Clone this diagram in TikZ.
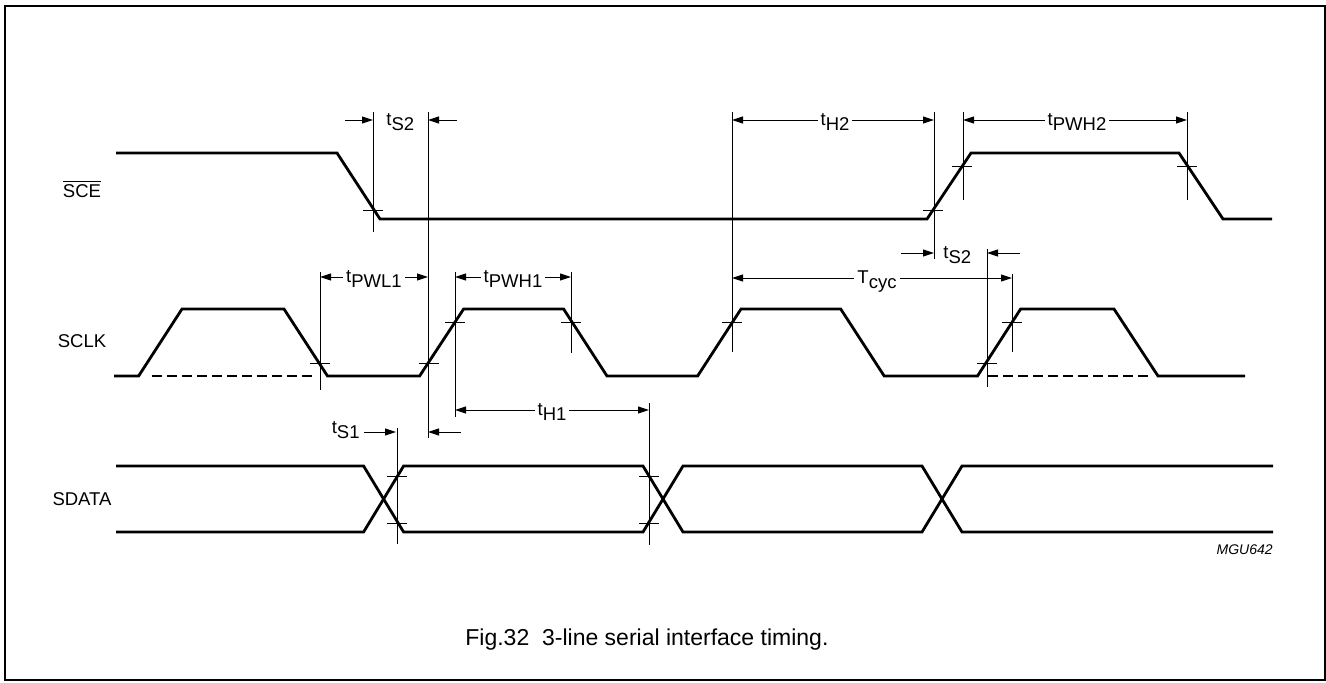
\documentclass[tikz,border=0pt]{standalone}
\usepackage{fontspec}
\setmainfont{Liberation Sans}
\usetikzlibrary{arrows.meta}
\tikzset{
  sig/.style={line width=1.4pt, line join=miter},
  dsig/.style={line width=1.4pt, dash pattern=on 5pt off 2.5pt},
  vline/.style={line width=0.5pt},
  arr/.style={line width=0.5pt, -{Triangle[length=5.5pt,width=3.5pt]}},
  darr/.style={line width=0.5pt, {Triangle[length=5.5pt,width=3.5pt]}-{Triangle[length=5.5pt,width=3.5pt]}},
  tlab/.style={font=\fontsize{9.25pt}{11pt}\selectfont, inner sep=1.5pt},
  tlabw/.style={tlab, fill=white},
  siglab/.style={font=\fontsize{9.25pt}{11pt}\selectfont, inner sep=0pt, anchor=base},
}
\newcommand\tsb[2]{#1\raisebox{-2.6pt}{#2}}
\begin{document}
\begin{tikzpicture}[x=0.5pt,y=-0.5pt]
\useasboundingbox (0,0) rectangle (1326,682);
% frame
\draw[line width=1pt] (5,6) rectangle (1324.5,680);

% signal labels
\node[siglab] (lsce) at (82,197) {$\overline{\mbox{SCE}}$};
\node[siglab] (lsclk) at (82,347) {SCLK};
\node[siglab] (lsdata) at (82,505) {SDATA};

% SCE
\draw[sig] (116,153) -- (337,153) -- (380,219) -- (927,219) -- (971,153) -- (1179,153) -- (1223,219) -- (1272,219);

% SCLK
\draw[sig] (114,376) -- (138.6,376) -- (182,309) -- (284,309) -- (327.5,376) -- (419.6,376) -- (463.6,309) -- (563.6,309) -- (607,376) -- (697.6,376) -- (741,309) -- (840.7,309) -- (884.2,376) -- (977.5,376) -- (1020.6,309) -- (1114,309) -- (1158,376) -- (1245,376);
\draw[dsig] (151.8,376) -- (314,376);
\draw[dsig] (988,376) -- (1152,376);

% SDATA
\draw[sig] (116,466) -- (363.6,466) -- (403.6,532) -- (643,532) -- (683,466) -- (922,466) -- (962,532) -- (1273,532);
\draw[sig] (116,532) -- (363.6,532) -- (403.6,466) -- (643,466) -- (683,532) -- (922,532) -- (962,466) -- (1273,466);

% vertical markers
\foreach \n/\x/\ya/\yb in {m1/373/112/232, m2/428/112/438, m3/732/112/352, m4/934/112/259, m5/963/112/200, m6/1187/112/200, m7/320/272/390, m8/455/272/417, m9/571/272/353, m10/987/249/387, m11/1012/274/352, m12/397/428/544, m13/649/403/545}
  {\coordinate (\n t) at (\x,\ya); \coordinate (\n b) at (\x,\yb); \draw[vline] (\n t) -- (\n b);}

% crossing ticks
\foreach \x/\y in {373/210, 933/210, 962/166, 1187/166, 320/363, 428.5/363, 455/322, 571/322, 732/322, 987/363, 1012/322, 397/476, 397/523, 649/476, 649/523}
  {\draw[vline] ({\x-10},\y) -- ({\x+10},\y);}

% tS2 (first)
\draw[arr] (345,120) -- (373,120);
\draw[arr] (457,120) -- (428,120);
\node[tlab, anchor=base west, inner sep=0pt] (ts2a) at (386,125) {\tsb{t}{S2}};

% tH2
\draw[darr] (732,120) -- (934,120);
\node[tlabw, anchor=base] (th2) at (835,125) {\tsb{t}{H2}};

% tPWH2
\draw[darr] (963,120) -- (1187,120);
\node[tlabw, anchor=base] (tpwh2) at (1077,125) {\tsb{t}{PWH2}};

% tPWL1
\draw[darr] (320,277) -- (428,277);
\node[tlabw, anchor=base] (tpwl1) at (374,282) {\tsb{t}{PWL1}};

% tPWH1
\draw[darr] (455,277) -- (571,277);
\node[tlabw, anchor=base] (tpwh1) at (513,282) {\tsb{t}{PWH1}};

% Tcyc
\draw[darr] (732,278) -- (1012,278);
\node[tlabw, anchor=base] (tcyc) at (877,283) {\tsb{T}{cyc}};

% tS2 (second)
\draw[arr] (901,253) -- (934,253);
\draw[arr] (1020,253) -- (987,253);
\node[tlab, anchor=base west, inner sep=0pt] (ts2b) at (943,258) {\tsb{t}{S2}};

% tH1
\draw[darr] (455,410) -- (649,410);
\node[tlabw, anchor=base] (th1) at (552,415) {\tsb{t}{H1}};

% tS1 and hold arrow
\draw[arr] (364,432) -- (396,432);
\node[tlab, anchor=base east, inner sep=0pt] (ts1) at (360,433) {\tsb{t}{S1}};
\draw[arr] (461,432) -- (428,432);

% code and caption
\node[anchor=base east, inner sep=0pt, font=\fontsize{7pt}{8pt}\selectfont\itshape] (code) at (1273,554) {MGU642};
\node[anchor=base west, inner sep=0pt, font=\fontsize{11.5pt}{13pt}\selectfont] (cap) at (465,645) {Fig.32\ \ 3-line serial interface timing.};
\end{tikzpicture}
\end{document}
